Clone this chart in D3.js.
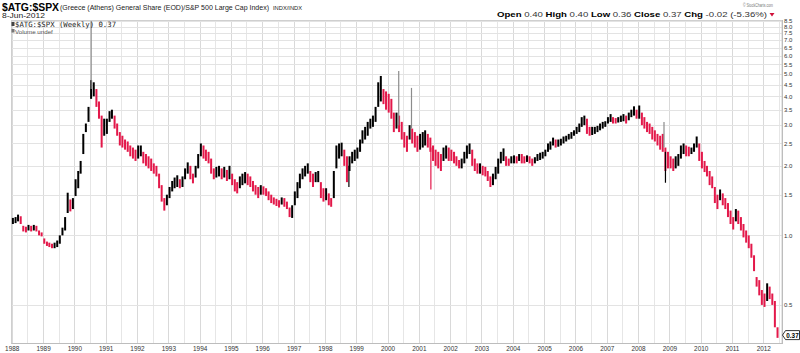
<!DOCTYPE html>
<html>
<head>
<meta charset="utf-8">
<script src="https://cdn.jsdelivr.net/npm/d3@7"></script>
<style>
  body { margin: 0; background: #fff; }
  svg { display: block; font-family: "Liberation Sans", Arial, sans-serif; }
</style>
</head>
<body>
<svg id="chart" width="800" height="353"></svg>
<script>
// monthly low / high of $ATG:$SPX, Jan 1988 .. Jun 2012 (one row per year)
const monthLow = [
  1.12,1.13,1.15,1.12,1.04,1.03,1.05,1.04,1.05,1.04,1.00,0.99, // 1988
  0.92,0.90,0.89,0.88,0.88,0.89,0.92,1.00,1.05,1.25,1.27,1.30, // 1989
  1.48,1.60,1.85,2.25,2.80,3.10,3.90,4.00,3.60,3.20,2.40,2.70, // 1990
  2.75,3.10,3.20,2.90,2.70,2.45,2.40,2.35,2.30,2.20,2.15,2.10, // 1991
  2.15,2.20,2.05,2.00,1.95,1.90,1.85,1.80,1.60,1.40,1.28,1.35, // 1992
  1.45,1.55,1.60,1.62,1.60,1.62,1.75,1.85,1.75,1.68,1.78,1.95, // 1993
  2.20,2.15,2.10,2.05,1.85,1.75,1.78,1.80,1.75,1.78,1.72,1.75, // 1994
  1.65,1.55,1.52,1.60,1.65,1.68,1.65,1.62,1.55,1.50,1.45,1.50, // 1995
  1.50,1.48,1.42,1.38,1.36,1.34,1.32,1.36,1.33,1.30,1.20,1.19, // 1996
  1.35,1.45,1.60,1.75,1.80,1.85,1.70,1.62,1.70,1.70,1.45,1.40, // 1997
  1.42,1.35,1.33,1.45,1.95,2.15,2.20,2.00,1.70,1.90,2.05,2.10, // 1998
  2.15,2.30,2.50,2.60,2.70,2.90,2.95,3.10,3.60,3.80,3.70,3.50, // 1999
  3.40,3.20,2.80,2.90,2.80,2.60,2.40,2.30,2.60,2.50,2.40,2.30, // 2000
  2.35,2.40,2.45,2.40,2.30,2.10,2.00,1.95,1.90,2.10,2.15,2.10, // 2001
  2.10,2.05,2.00,1.95,1.95,2.05,2.15,2.25,2.00,1.90,1.85,1.85, // 2002
  1.82,1.80,1.72,1.62,1.65,1.75,1.85,2.05,2.10,2.00,2.00,2.05, // 2003
  2.05,2.05,2.10,2.05,2.05,2.08,2.05,2.00,2.05,2.10,2.12,2.15, // 2004
  2.20,2.30,2.35,2.45,2.40,2.42,2.45,2.50,2.55,2.60,2.62,2.70, // 2005
  2.75,2.80,2.95,3.00,2.75,2.70,2.72,2.75,2.80,2.85,2.90,2.95, // 2006
  3.05,3.10,3.05,3.05,3.08,3.10,3.12,3.05,3.15,3.25,3.30,3.20, // 2007
  3.20,3.00,2.90,2.80,2.75,2.60,2.55,2.45,2.35,2.30,1.90,1.95, // 2008
  1.95,1.90,1.95,2.00,2.15,2.25,2.20,2.20,2.25,2.30,2.40,2.10, // 2009
  1.95,1.88,1.80,1.65,1.60,1.38,1.30,1.42,1.35,1.30,1.20,1.12, // 2010
  1.06,1.15,1.12,1.05,0.98,0.93,0.88,0.80,0.70,0.60,0.55,0.50, // 2011
  0.49,0.52,0.53,0.50,0.40,0.36                                // 2012
];
const monthHigh = [
  1.19,1.20,1.23,1.21,1.10,1.09,1.11,1.10,1.11,1.10,1.05,1.03,
  0.97,0.94,0.93,0.92,0.93,0.95,1.00,1.08,1.20,1.53,1.43,1.45,
  1.75,1.90,2.10,2.75,3.05,3.60,4.70,4.60,4.30,3.80,3.30,3.20,
  3.20,3.45,3.50,3.30,3.05,2.80,2.70,2.60,2.55,2.45,2.40,2.35,
  2.45,2.45,2.30,2.25,2.20,2.15,2.05,2.00,1.85,1.65,1.45,1.50,
  1.62,1.72,1.78,1.82,1.75,1.80,1.95,2.07,2.00,1.85,2.00,2.25,
  2.50,2.45,2.35,2.30,2.15,1.95,1.98,2.00,1.95,1.98,1.92,2.00,
  1.85,1.75,1.70,1.80,1.85,1.88,1.85,1.80,1.72,1.65,1.62,1.65,
  1.63,1.60,1.55,1.50,1.46,1.44,1.42,1.46,1.45,1.40,1.32,1.35,
  1.55,1.70,1.85,1.95,2.00,2.05,1.90,1.85,1.88,1.90,1.70,1.60,
  1.60,1.52,1.45,1.90,2.45,2.50,2.52,2.35,2.20,2.20,2.30,2.35,
  2.40,2.60,2.85,2.95,3.10,3.20,3.30,3.60,4.60,4.90,4.30,4.20,
  4.10,3.90,3.40,3.40,3.30,3.10,2.80,2.70,3.00,2.90,2.80,2.70,
  2.75,2.80,2.85,2.75,2.65,2.45,2.35,2.30,2.25,2.40,2.45,2.40,
  2.35,2.30,2.20,2.12,2.15,2.30,2.45,2.50,2.35,2.15,2.05,2.05,
  2.00,1.98,1.90,1.80,1.85,1.98,2.15,2.30,2.38,2.20,2.15,2.20,
  2.22,2.20,2.25,2.25,2.20,2.22,2.20,2.15,2.18,2.25,2.28,2.30,
  2.35,2.50,2.55,2.65,2.60,2.60,2.62,2.68,2.70,2.75,2.80,2.85,
  2.95,3.05,3.25,3.30,3.20,2.95,2.95,2.95,2.98,3.05,3.10,3.12,
  3.25,3.35,3.25,3.22,3.25,3.30,3.35,3.30,3.40,3.50,3.62,3.50,
  3.65,3.40,3.25,3.10,3.05,2.95,2.85,2.75,2.70,2.75,2.40,2.30,
  2.20,2.15,2.20,2.25,2.45,2.50,2.45,2.42,2.40,2.50,2.68,2.50,
  2.30,2.10,2.00,1.90,1.80,1.62,1.50,1.58,1.52,1.45,1.38,1.28,
  1.20,1.30,1.28,1.20,1.12,1.05,1.00,0.92,0.82,0.66,0.64,0.58,
  0.56,0.62,0.60,0.56,0.52,0.40
];
// single-week outliers drawn as thin lines
const spikeDates = ["1990-07-10", "1998-10-02", "2000-05-05", "2000-10-01", "2001-05-15", "2008-10-24", "2008-11-10"];
const spikeLow   = [4.30, 1.62, 3.00, 2.90, 1.58, 2.40, 1.69];
const spikeHigh  = [8.45, 2.00, 5.15, 4.35, 2.40, 3.10, 2.30];
const spikeKind  = ["gray", "up", "gray", "gray", "down", "gray", "up"];

const yTicks = [0.5, 1.0, 1.5, 2.0, 2.5, 3.0, 3.5, 4.0, 4.5, 5.0, 5.5, 6.0, 6.5, 7.0, 7.5, 8.0, 8.5];
const xYears = d3.range(1988, 2013);
const lastClose = 0.37;

const svg = d3.select('#chart');
const plotLeft = 11.5, plotRight = 782, plotTop = 20, plotBottom = 343;

const x = d3.scaleTime()
  .domain([new Date(1988, 0, 1), new Date(2012, 0, 1)])
  .range([11.7, 763.3]);
const y = d3.scaleLog()
  .domain([0.342, 8.56])
  .range([plotBottom, plotTop]);

const colors = { up: '#000', down: '#e3184a', gray: '#8c8c8c' };

// gridlines
const grid = svg.append('g');
const halfYears = [];
xYears.forEach(yr => { halfYears.push(new Date(yr, 0, 1)); halfYears.push(new Date(yr, 6, 1)); });
grid.selectAll('.vg').data(halfYears.filter(d => x(d) < plotRight))
  .enter().append('line')
  .attr('x1', d => Math.round(x(d)) + 0.5).attr('x2', d => Math.round(x(d)) + 0.5)
  .attr('y1', plotTop).attr('y2', plotBottom)
  .attr('stroke', d => d.getMonth() === 0 ? '#d9d9d9' : '#e6e6e6');
grid.selectAll('.hg').data(yTicks)
  .enter().append('line')
  .attr('x1', plotLeft).attr('x2', plotRight)
  .attr('y1', d => Math.round(y(d)) + 0.5).attr('y2', d => Math.round(y(d)) + 0.5)
  .attr('stroke', '#e3e3e3');

// frame
svg.append('rect')
  .attr('x', plotLeft).attr('y', plotTop + 0.5)
  .attr('width', plotRight - plotLeft).attr('height', plotBottom - plotTop)
  .attr('fill', 'none').attr('stroke', '#cfcfcf');
svg.append('line')
  .attr('x1', plotRight + 0.5).attr('x2', plotRight + 0.5).attr('y1', plotTop).attr('y2', plotBottom + 1)
  .attr('stroke', '#bdbdbd');
svg.append('line')
  .attr('x1', plotLeft).attr('x2', plotRight).attr('y1', plotBottom + 0.5).attr('y2', plotBottom + 0.5)
  .attr('stroke', '#bdbdbd');

// monthly bars
const bars = monthLow.map((lo, i) => {
  const hi = monthHigh[i];
  const prev = i > 0 ? monthLow[i - 1] + monthHigh[i - 1] : lo + hi;
  return {
    date: new Date(1988 + Math.floor(i / 12), i % 12, 15),
    lo, hi,
    dir: (lo + hi) >= prev ? 'up' : 'down'
  };
});

svg.append('g').selectAll('rect').data(bars)
  .enter().append('rect')
  .attr('x', d => x(d.date) - 1)
  .attr('width', 2)
  .attr('y', d => y(d.hi))
  .attr('height', d => Math.max(1, y(d.lo) - y(d.hi)))
  .attr('fill', d => colors[d.dir]);

svg.append('g').selectAll('line').data(spikeDates)
  .enter().append('line')
  .attr('x1', d => x(new Date(d)) + 0.5).attr('x2', d => x(new Date(d)) + 0.5)
  .attr('y1', (d, i) => y(spikeHigh[i])).attr('y2', (d, i) => y(spikeLow[i]))
  .attr('stroke', (d, i) => colors[spikeKind[i]])
  .attr('stroke-width', 1.2);

// y axis labels
svg.append('g').selectAll('text').data(yTicks)
  .enter().append('text')
  .attr('x', 784).attr('y', d => y(d) + 2.2)
  .attr('font-size', 6).attr('fill', '#333')
  .text(d => d.toFixed(1));

// x axis labels
svg.append('g').selectAll('text').data(xYears)
  .enter().append('text')
  .attr('x', d => x(new Date(d, 0, 1)) + 0.5)
  .attr('y', 350.5)
  .attr('text-anchor', 'middle')
  .attr('font-size', 6.4).attr('fill', '#333')
  .text(d => d);

// last value tag
const ly = y(lastClose);
svg.append('path')
  .attr('d', `M782.5,${ly} L785.5,${ly - 4.5} H799.5 V${ly + 4.5} H785.5 Z`)
  .attr('fill', '#fff').attr('stroke', '#000').attr('stroke-width', 0.8);
svg.append('text')
  .attr('x', 786.3).attr('y', ly + 2.4)
  .attr('font-size', 6.6).attr('font-weight', 'bold')
  .attr('textLength', 12.4).attr('lengthAdjust', 'spacingAndGlyphs')
  .text(lastClose.toFixed(2));

// header
svg.append('text').attr('x', 2).attr('y', 10.5)
  .attr('font-size', 10.5).attr('font-weight', 'bold')
  .attr('textLength', 57).attr('lengthAdjust', 'spacingAndGlyphs')
  .text('$ATG:$SPX');
svg.append('text').attr('x', 60).attr('y', 10.3)
  .attr('font-size', 7).attr('fill', '#222')
  .attr('textLength', 209).attr('lengthAdjust', 'spacingAndGlyphs')
  .text('(Greece (Athens) General Share (EOD)/S&P 500 Large Cap Index)');
svg.append('text').attr('x', 273).attr('y', 10.3)
  .attr('font-size', 6).attr('fill', '#222')
  .attr('textLength', 29).attr('lengthAdjust', 'spacingAndGlyphs')
  .text('INDX/INDX');
svg.append('text').attr('x', 2).attr('y', 17.5)
  .attr('font-size', 7).attr('fill', '#222')
  .attr('textLength', 43).attr('lengthAdjust', 'spacingAndGlyphs')
  .text('8-Jun-2012');

svg.append('text').attr('x', 743).attr('y', 7)
  .attr('font-size', 6).attr('fill', '#777')
  .attr('textLength', 30).attr('lengthAdjust', 'spacingAndGlyphs')
  .text('\u00a9 StockCharts.com');

const ohlc = svg.append('text').attr('x', 497).attr('y', 17).attr('font-size', 7.6)
  .attr('textLength', 270).attr('lengthAdjust', 'spacingAndGlyphs');
[['Open', '0.40'], ['High', '0.40'], ['Low', '0.36'], ['Close', '0.37'], ['Chg', '-0.02 (-5.36%)']].forEach((p, i) => {
  ohlc.append('tspan').attr('font-weight', 'bold').text((i ? '  ' : '') + p[0]);
  ohlc.append('tspan').attr('fill', '#333').text(' ' + p[1]);
});
svg.append('path').attr('d', 'M769.5,13 L774.5,13 L772,16.5 Z').attr('fill', '#d0103a');

// legend inside plot
svg.append('rect').attr('x', 11.5).attr('y', 22).attr('width', 3).attr('height', 4).attr('fill', '#444');
svg.append('text').attr('x', 15).attr('y', 26.5)
  .attr('font-family', '"DejaVu Sans Mono", monospace').attr('font-size', 7.3).attr('fill', '#222')
  .text('$ATG:$SPX (Weekly) 0.37');
svg.append('rect').attr('x', 11.5).attr('y', 29).attr('width', 3).attr('height', 3.5).attr('fill', '#777');
svg.append('text').attr('x', 15).attr('y', 33.5)
  .attr('font-size', 6.2).attr('fill', '#555')
  .text('Volume undef');
</script>
</body>
</html>
